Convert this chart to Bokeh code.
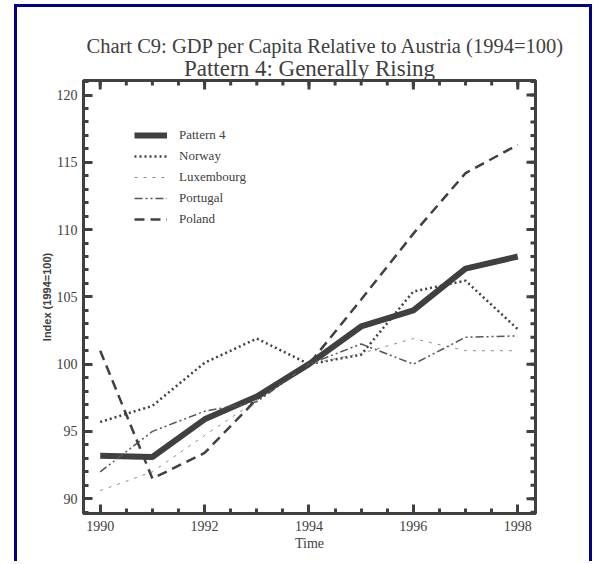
import numpy as np
from bokeh.plotting import figure
from bokeh.models import (LinearAxis, FixedTicker, Title, Legend, LegendItem, Range1d)
from bokeh.embed import file_html
from bokeh.resources import INLINE

# ---- data ----
years = [1990, 1991, 1992, 1993, 1994, 1995, 1996, 1997, 1998]
pattern4 = [93.2, 93.1, 95.9, 97.6, 100.0, 102.8, 104.0, 107.1, 108.0]
norway = [95.7, 96.9, 100.1, 101.9, 100.0, 100.7, 105.4, 106.2, 102.6]
luxembourg = [90.6, 92.0, 94.7, 97.3, 100.0, 100.8, 101.9, 101.0, 101.0]
portugal = [92.0, 95.0, 96.5, 97.2, 100.0, 101.5, 100.0, 102.0, 102.1]
poland = [101.0, 91.5, 93.4, 97.4, 100.0, 104.8, 109.7, 114.2, 116.3]

x_major = [1990, 1992, 1994, 1996, 1998]
x_minor = [1990 + 0.5 * i for i in range(17)]
y_major = [90, 95, 100, 105, 110, 115, 120]
y_minor = list(range(89, 122))

X0, X1 = 1989.68, 1998.34
Y0, Y1 = 88.9, 121.08

TXT = "#404040"
AX = "#404040"
SERIF = "Liberation Serif"

p = figure(width=578, height=557, output_backend="svg", toolbar_location=None,
           x_range=Range1d(X0, X1), y_range=Range1d(Y0, Y1),
           x_axis_location=None, y_axis_location=None,
           min_border_left=66, min_border_right=60,
           min_border_top=73, min_border_bottom=51)
p.styles = {"border-left": "3px solid #00008B",
            "border-top": "3px solid #00008B",
            "border-right": "3px solid #00008B",
            "margin-left": "14px", "margin-top": "4px"}
p.grid.visible = False
p.outline_line_color = AX
p.outline_line_width = 3
p.background_fill_color = "white"
p.border_fill_color = "white"

xt = FixedTicker(ticks=x_major, minor_ticks=x_minor)
yt = FixedTicker(ticks=y_major, minor_ticks=y_minor)


def style_axis(ax):
    ax.axis_line_color = AX
    ax.axis_line_width = 3
    ax.major_tick_in = 9
    ax.major_tick_out = 0
    ax.minor_tick_in = 5
    ax.minor_tick_out = 0
    ax.major_tick_line_color = AX
    ax.minor_tick_line_color = AX
    ax.major_tick_line_width = 3
    ax.minor_tick_line_width = 3
    ax.major_label_text_font = SERIF
    ax.major_label_text_color = TXT
    ax.major_label_text_font_size = "14px"


bx = LinearAxis(ticker=xt, axis_label="Time")
style_axis(bx)
bx.major_label_standoff = 7
bx.axis_label_text_font = SERIF
bx.axis_label_text_font_size = "14px"
bx.axis_label_text_font_style = "normal"
bx.axis_label_text_color = TXT
bx.axis_label_standoff = 2
p.add_layout(bx, "below")

ly = LinearAxis(ticker=yt, axis_label="Index (1994=100)")
style_axis(ly)
ly.major_label_standoff = 6
ly.axis_label_text_font = "Liberation Sans"
ly.axis_label_text_font_size = "11px"
ly.axis_label_text_font_style = "bold"
ly.axis_label_text_color = TXT
ly.axis_label_standoff = 1
p.add_layout(ly, "left")

# inward ticks on the top and right edges of the frame
p.ray(x=x_major, y=[Y1] * len(x_major), length=9, angle=-np.pi / 2,
      length_units="screen", line_color=AX, line_width=3)
p.ray(x=x_minor, y=[Y1] * len(x_minor), length=5, angle=-np.pi / 2,
      length_units="screen", line_color=AX, line_width=3)
p.ray(x=[X1] * len(y_major), y=y_major, length=9, angle=np.pi,
      length_units="screen", line_color=AX, line_width=3)
p.ray(x=[X1] * len(y_minor), y=y_minor, length=5, angle=np.pi,
      length_units="screen", line_color=AX, line_width=3)

p.add_layout(Title(text="Pattern 4: Generally Rising", align="center",
                   text_font=SERIF, text_font_size="23px", standoff=0,
                   text_font_style="normal", text_color=TXT), "above")
p.add_layout(Title(text="Chart C9: GDP per Capita Relative to Austria (1994=100)",
                   align="left", offset=3, standoff=-6,
                   text_font=SERIF, text_font_size="20.5px",
                   text_font_style="normal", text_color=TXT), "above")

r_p4 = p.line(years, pattern4, line_color="#404040", line_width=6)
r_no = p.line(years, norway, line_color="#404040", line_width=2.5, line_dash="2 3")
r_lu = p.line(years, luxembourg, line_color="#8c8c8c", line_width=1, line_dash="3 6")
r_pt = p.line(years, portugal, line_color="#555555", line_width=1.5, line_dash="8 3 2 3 2 3")
r_pl = p.line(years, poland, line_color="#404040", line_width=2.5, line_dash="10 6")

legend = Legend(items=[LegendItem(label="Pattern 4", renderers=[r_p4]),
                       LegendItem(label="Norway", renderers=[r_no]),
                       LegendItem(label="Luxembourg", renderers=[r_lu]),
                       LegendItem(label="Portugal", renderers=[r_pt]),
                       LegendItem(label="Poland", renderers=[r_pl])],
                location=(51, 284), margin=0, padding=0, spacing=1,
                glyph_width=33, glyph_height=20, label_height=20,
                label_standoff=12, label_text_font=SERIF,
                label_text_font_size="13px", label_text_color=TXT,
                border_line_alpha=0, background_fill_alpha=0)
p.add_layout(legend)

open("out.html", "w").write(file_html(p, INLINE))
